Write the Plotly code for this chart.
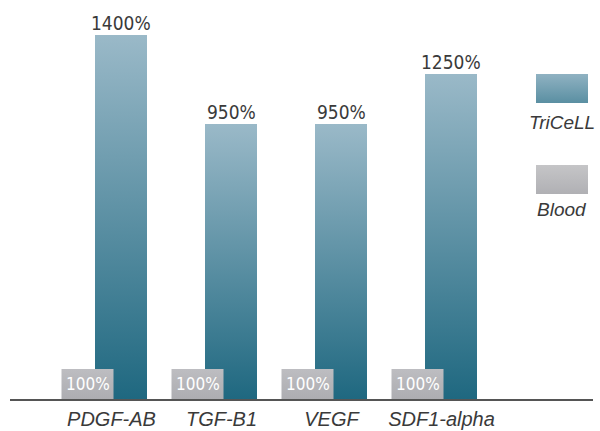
import plotly.graph_objects as go

# ---- data ----
categories = ["PDGF-AB", "TGF-B1", "VEGF", "SDF1-alpha"]
tricell_labels = [1400, 950, 950, 1250]        # values printed on the bars (%)
tricell_drawn = [1400, 1058, 1058, 1250]       # bar heights as drawn in the reference (not to scale)
blood_labels = [100, 100, 100, 100]
blood_drawn = [115, 115, 115, 115]
series_names = ["TriCeLL", "Blood"]

# ---- style ----
W, H = 600, 431
ML, MR, MT, MB = 10, 7, 20, 32
plot_w = W - ML - MR
plot_h = H - MT - MB
px_per_unit = 110.0
x0 = -(111.5 - ML) / px_per_unit
x1 = x0 + plot_w / px_per_unit
y_max = 1400 * plot_h / 364.0
bar_w = 52 / px_per_unit
tri_off = 9.5 / px_per_unit
blood_off = -24 / px_per_unit

tri_scale = [[0, "#1f6880"], [1, "#9ab9c8"]]
blood_scale = [[0, "#adadb1"], [1, "#bdbdc1"]]
tri_leg_scale = [[0, "#5a8fa2"], [1, "#90b2c2"]]
blood_leg_scale = [[0, "#b0b0b4"], [1, "#c5c5c7"]]

NARROW = "DejaVu Sans Condensed, Liberation Sans Narrow, sans-serif"
REG = "Liberation Sans, Arial, sans-serif"

fig = go.Figure()
annotations = []

def bar_poly(center, h):
    l, r = center - bar_w / 2, center + bar_w / 2
    return [l, l, r, r, l], [0, h, h, 0, 0]

for i, h in enumerate(tricell_drawn):
    xs, ys = bar_poly(i + tri_off, h)
    fig.add_trace(go.Scatter(
        x=xs, y=ys, mode="lines", fill="toself",
        line=dict(width=0, color="rgba(0,0,0,0)"),
        fillgradient=dict(type="vertical", colorscale=tri_scale, start=0, stop=h),
        showlegend=False, hoverinfo="skip", name=series_names[0]))
    annotations.append(dict(
        x=i + tri_off, y=h, xref="x", yref="y", text=f"{tricell_labels[i]}%",
        showarrow=False, yanchor="bottom", yshift=-1,
        font=dict(family=NARROW, size=19, color="#3a3a3a")))

for i, h in enumerate(blood_drawn):
    xs, ys = bar_poly(i + blood_off, h)
    fig.add_trace(go.Scatter(
        x=xs, y=ys, mode="lines", fill="toself",
        line=dict(width=0, color="rgba(0,0,0,0)"),
        fillgradient=dict(type="vertical", colorscale=blood_scale, start=0, stop=h),
        showlegend=False, hoverinfo="skip", name=series_names[1]))
    annotations.append(dict(
        x=i + blood_off, y=h / 2, xref="x", yref="y", text=f"{blood_labels[i]}%",
        showarrow=False, yanchor="middle",
        font=dict(family=NARROW, size=17, color="#ffffff")))

# ---- custom legend (swatch above label) ----
def px_dom_x(a, b):
    return [(a - ML) / plot_w, (b - ML) / plot_w]

def px_dom_y(top, bottom):
    return [(H - MB - bottom) / plot_h, (H - MB - top) / plot_h]

for k, (scale, ytop, ybot) in enumerate([(tri_leg_scale, 74, 103), (blood_leg_scale, 165, 194)]):
    ax = k + 2
    fig.add_trace(go.Scatter(
        x=[0, 0, 1, 1, 0], y=[0, 1, 1, 0, 0], mode="lines", fill="toself",
        line=dict(width=0, color="rgba(0,0,0,0)"),
        fillgradient=dict(type="vertical", colorscale=scale, start=0, stop=1),
        xaxis=f"x{ax}", yaxis=f"y{ax}", showlegend=False, hoverinfo="skip"))
    fig.layout[f"xaxis{ax}"] = dict(domain=px_dom_x(536, 588), range=[0, 1], visible=False,
                                    anchor=f"y{ax}", fixedrange=True)
    fig.layout[f"yaxis{ax}"] = dict(domain=px_dom_y(ytop, ybot), range=[0, 1], visible=False,
                                    anchor=f"x{ax}", fixedrange=True)

for name, cy in zip(series_names, [122, 209]):
    annotations.append(dict(
        x=(562 - ML) / plot_w, y=(H - MB - cy) / plot_h, xref="paper", yref="paper",
        text=f"<i>{name}</i>", showarrow=False, xanchor="center", yanchor="middle",
        font=dict(family=REG, size=19, color="#3a3a3a")))

fig.update_layout(
    width=W, height=H,
    margin=dict(l=ML, r=MR, t=MT, b=MB, autoexpand=False),
    paper_bgcolor="white", plot_bgcolor="white",
    showlegend=False,
    annotations=annotations,
    xaxis=dict(range=[x0, x1], tickmode="array", tickvals=list(range(len(categories))),
               ticktext=[f"<i>{c}</i>" for c in categories], showgrid=False, zeroline=False,
               showline=True, linecolor="#555555", linewidth=2, ticks="",
               ticklabelstandoff=1, automargin=False,
               tickfont=dict(family=REG, size=20, color="#3a3a3a"), fixedrange=True),
    yaxis=dict(range=[0, y_max], visible=False, showgrid=False, zeroline=False,
               automargin=False, fixedrange=True),
)

fig.write_html("out.html", config={"displayModeBar": False},
               post_script="document.body.style.margin='0';")
